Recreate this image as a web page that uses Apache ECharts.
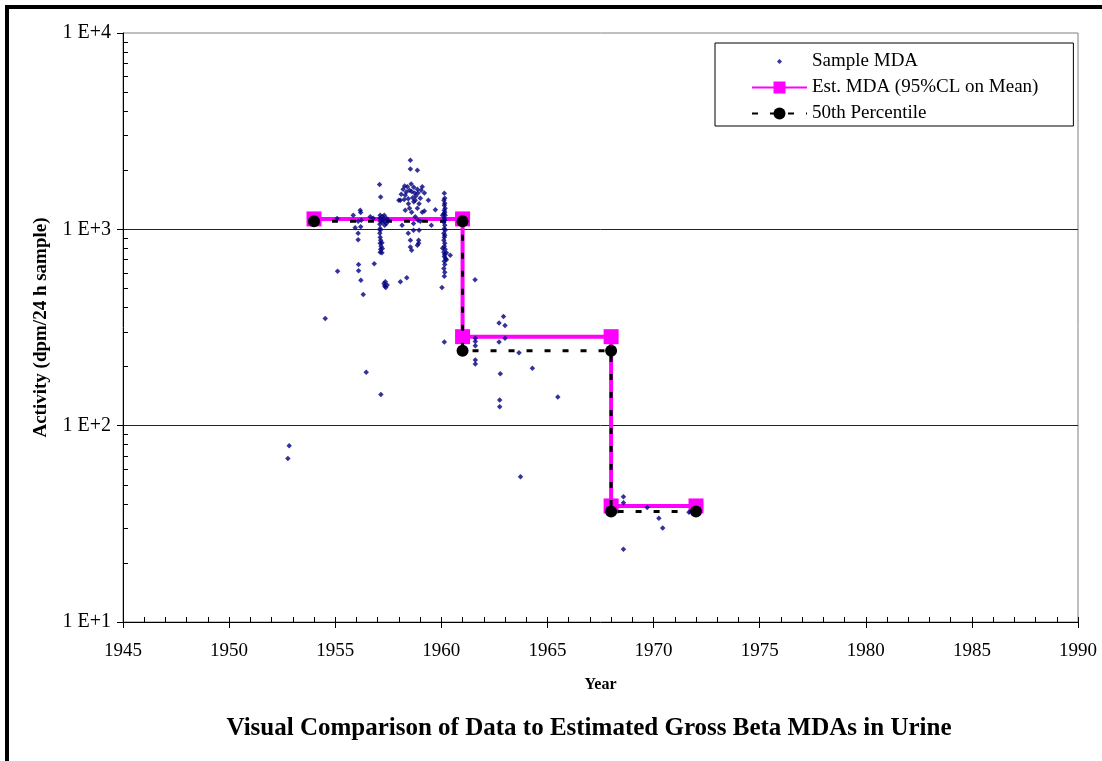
<!DOCTYPE html>
<html>
<head>
<meta charset="utf-8">
<script src="https://cdn.jsdelivr.net/npm/echarts@6/dist/echarts.min.js"></script>
<style>
html,body{margin:0;padding:0;background:#fff;}
#chart{width:1102px;height:761px;}
</style>
</head>
<body>
<div id="chart"></div>
<script>
// ---- data ----
const xTicks = [1945, 1950, 1955, 1960, 1965, 1970, 1975, 1980, 1985, 1990];
const yTickLabels = ['1 E+1', '1 E+2', '1 E+3', '1 E+4'];
const stepYears = [1954, 1961, 1961, 1968, 1968, 1972];
const estMDA = [1130, 1130, 284, 284, 39, 39];
const p50MDA = [1100, 1100, 241, 241, 36.5, 36.5];
const samplePoints = [
  [1952.83, 79], [1952.77, 68],
  [1954.53, 351],
  [1955.09, 1137], [1955.11, 612],
  [1955.85, 1180], [1955.94, 1020],
  [1956.08, 1100], [1956.08, 955], [1956.08, 885], [1956.1, 663], [1956.1, 615],
  [1956.18, 1250], [1956.2, 1220], [1956.23, 1112], [1956.2, 1030], [1956.21, 550],
  [1956.32, 466], [1956.46, 187],
  [1956.65, 1160], [1956.79, 1138], [1956.84, 668],
  [1957.09, 1690], [1957.14, 1462], [1957.15, 144],
  [1957.12, 1180], [1957.1, 1138], [1957.12, 1100], [1957.1, 1060], [1957.12, 1011], [1957.12, 988],
  [1957.1, 955], [1957.12, 910], [1957.14, 879], [1957.12, 849], [1957.16, 819], [1957.14, 791], [1957.12, 764],
  [1957.2, 855], [1957.22, 798], [1957.2, 760],
  [1957.22, 1160], [1957.24, 1120], [1957.22, 1086],
  [1957.31, 1178], [1957.31, 1100], [1957.33, 1048], [1957.3, 530], [1957.33, 515],
  [1957.36, 540], [1957.38, 506], [1957.41, 1138], [1957.41, 1070], [1957.45, 520], [1957.5, 1112],
  [1958.0, 1406], [1958.07, 1406], [1958.07, 540], [1958.11, 1510], [1958.15, 1050], [1958.27, 1660],
  [1958.3, 1490], [1958.37, 567], [1958.44, 1430], [1958.44, 955], [1958.5, 1580], [1958.5, 1279],
  [1958.54, 2250], [1958.54, 2030], [1958.54, 879], [1958.54, 813], [1958.6, 782], [1958.6, 1222],
  [1958.6, 1560], [1958.69, 988], [1958.69, 1070], [1958.74, 1530], [1958.77, 1406], [1958.77, 1160],
  [1958.87, 2000], [1958.87, 1600], [1958.87, 1279], [1958.87, 830], [1958.9, 1530], [1958.9, 1112],
  [1958.93, 849], [1958.93, 879], [1958.95, 988], [1959.01, 1440], [1959.01, 1100], [1959.1, 1650],
  [1959.1, 1222], [1959.2, 1530], [1959.2, 1240], [1959.39, 1406], [1959.53, 1048], [1959.72, 1260],
  [1958.2, 1600], [1958.35, 1550], [1958.4, 1650], [1958.65, 1450], [1958.7, 1380], [1958.8, 1480],
  [1958.45, 1350], [1958.25, 1420], [1958.95, 1350], [1959.05, 1580], [1958.58, 1700], [1958.7, 1640],
  [1958.3, 1250],
  [1960.14, 1527], [1960.16, 1439], [1960.12, 1406], [1960.16, 1358], [1960.14, 1325], [1960.18, 1279],
  [1960.14, 1250], [1960.16, 1222], [1960.12, 1200], [1960.18, 1178], [1960.14, 1138], [1960.16, 1112],
  [1960.12, 1086], [1960.16, 1048], [1960.14, 1011], [1960.18, 988], [1960.12, 955], [1960.16, 932],
  [1960.14, 910], [1960.12, 879], [1960.16, 849], [1960.14, 819], [1960.18, 791], [1960.12, 764],
  [1960.16, 745], [1960.14, 728], [1960.2, 711], [1960.14, 687], [1960.16, 663], [1960.12, 632],
  [1960.16, 604], [1960.14, 576], [1960.03, 506], [1960.14, 267], [1960.42, 737],
  [1960.24, 760], [1960.24, 700], [1960.06, 1180], [1960.06, 800],
  [1961.59, 553], [1961.6, 279], [1961.6, 268], [1961.6, 255], [1961.6, 216], [1961.6, 206],
  [1962.72, 333], [1962.72, 267], [1962.75, 135], [1962.75, 125], [1962.78, 184], [1962.93, 360],
  [1963.0, 324], [1963.0, 279], [1963.66, 235], [1963.73, 55], [1964.29, 196], [1965.49, 140],
  [1968.58, 43.4], [1968.58, 40.5], [1968.58, 23.5], [1969.7, 38.3], [1970.25, 33.8], [1970.43, 30.1],
  [1971.67, 36.2]
];
const yMinorTicks = [20,30,40,50,60,70,80,90,200,300,400,500,600,700,800,900,2000,3000,4000,5000,6000,7000,8000,9000];
const titleText = 'Visual Comparison of Data to Estimated Gross Beta MDAs in Urine';

// ---- chart ----
const serif = 'Liberation Serif, Times New Roman, serif';
const chart = echarts.init(document.getElementById('chart'), null, {renderer: 'canvas'});
const estData = stepYears.map((x, i) => [x, estMDA[i]]);
const p50Data = stepYears.map((x, i) => [x, p50MDA[i]]);

const option = {
  animation: false,
  backgroundColor: '#fff',
  grid: {left: 123, right: 24, top: 33, bottom: 139, show: true, borderColor: '#808080', borderWidth: 1, backgroundColor: 'transparent'},
  legend: {
    orient: 'vertical', left: 715, top: 43,
    backgroundColor: '#fff', borderColor: '#000', borderWidth: 1,
    padding: [9, 35, 3, 36],
    itemWidth: 55, itemHeight: 15, itemGap: 7,
    selectedMode: false,
    textStyle: {fontFamily: serif, fontSize: 19, color: '#000'},
    data: [
      {name: 'Sample MDA', icon: 'path://M0,0 M55,15 M27.5,5 L30,7.5 L27.5,10 L25,7.5 Z'},
      'Est. MDA (95%CL on Mean)',
      '50th Percentile'
    ]
  },
  xAxis: [{
    type: 'value', min: xTicks[0], max: xTicks[xTicks.length - 1], interval: 5,
    axisLine: {show: true, onZero: false, lineStyle: {color: '#000', width: 1}},
    axisTick: {show: true, inside: false, length: 6, lineStyle: {color: '#000'}},
    axisLabel: {fontFamily: serif, fontSize: 19, color: '#000', margin: 20, formatter: v => String(v)},
    splitLine: {show: false},
    name: 'Year', nameLocation: 'middle', nameGap: 55,
    nameTextStyle: {fontFamily: serif, fontSize: 16, fontWeight: 'bold', color: '#000'}
  }, {
    type: 'value', min: xTicks[0], max: xTicks[xTicks.length - 1], interval: 1, position: 'bottom',
    axisLine: {show: false},
    axisTick: {show: true, inside: true, length: 5, lineStyle: {color: '#000'}},
    axisLabel: {show: false},
    splitLine: {show: false}
  }],
  yAxis: [{
    type: 'log', logBase: 10, min: 10, max: 10000,
    axisLine: {show: true, onZero: false, lineStyle: {color: '#000', width: 1}},
    axisTick: {show: true, inside: false, length: 6, lineStyle: {color: '#000'}},
    axisLabel: {fontFamily: serif, fontSize: 20, color: '#000', margin: 12,
      formatter: v => yTickLabels[Math.round(Math.log10(v)) - 1]},
    splitLine: {show: true, showMinLine: false, showMaxLine: false, lineStyle: {color: '#222', width: 1}},
    name: 'Activity (dpm/24 h sample)', nameLocation: 'middle', nameGap: 72,
    nameTextStyle: {fontFamily: serif, fontSize: 19, fontWeight: 'bold', color: '#000'}
  }, {
    type: 'log', logBase: 10, min: 10, max: 10000, position: 'left',
    axisLine: {show: false},
    axisTick: {show: true, inside: true, length: 5, customValues: yMinorTicks, lineStyle: {color: '#000'}},
    axisLabel: {show: false},
    splitLine: {show: false}
  }],
  series: [{
    name: 'Est. MDA (95%CL on Mean)', type: 'line', data: estData,
    symbol: 'rect', symbolSize: 15,
    itemStyle: {color: '#ff00ff'},
    lineStyle: {color: '#ff00ff', width: 4},
    z: 2
  }, {
    name: '50th Percentile', type: 'line', data: p50Data,
    symbol: 'circle', symbolSize: 12,
    itemStyle: {color: '#000'},
    lineStyle: {color: '#000', width: 3, type: [6, 12]},
    z: 3
  }, {
    name: 'Sample MDA', type: 'scatter', data: samplePoints,
    symbol: 'diamond', symbolSize: 5.5,
    itemStyle: {color: '#000080'},
    z: 4
  }],
  graphic: [{
    type: 'polyline', silent: true,
    shape: {points: [[7, 761], [7, 7], [1102, 7]]},
    style: {stroke: '#000', lineWidth: 4, fill: null}
  }, {
    type: 'text', x: 589, y: 729, silent: true,
    style: {text: titleText, font: 'bold 25px ' + serif, fill: '#000', textAlign: 'center', textVerticalAlign: 'middle'}
  }]
};
chart.setOption(option);
</script>
</body>
</html>
